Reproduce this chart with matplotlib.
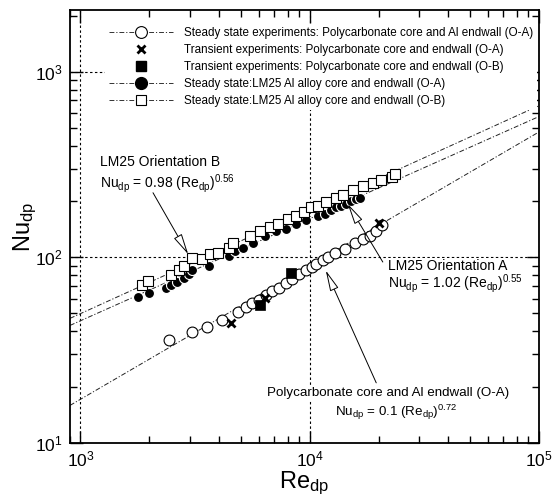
import numpy as np
import matplotlib
matplotlib.use('Agg')
import matplotlib.pyplot as plt
from matplotlib.lines import Line2D

plt.rcParams['font.family'] = ['Liberation Sans', 'DejaVu Sans']
plt.rcParams['mathtext.fontset'] = 'custom'
plt.rcParams['mathtext.rm'] = 'Liberation Sans'
plt.rcParams['mathtext.it'] = 'Liberation Sans:italic'
plt.rcParams['mathtext.bf'] = 'Liberation Sans:bold'

# ---------------- data ----------------
# Steady state: polycarbonate core and Al endwall (O-A)
pc_ss_re = [2430, 3050, 3550, 4150, 4870, 5260, 5620, 6010, 6430, 6880, 7350, 7860, 8400,
            8980, 9670, 10200, 10700, 11430, 12020, 12850, 14200, 15700, 17100, 18300, 19500, 20700]
pc_ss_nu = [36.0, 39.5, 42.0, 45.8, 50.7, 53.9, 56.8, 59.1, 62.4, 65.5, 68.7, 72.4, 76.9,
            81.1, 85.1, 88.7, 92.2, 97.2, 101, 105, 111, 120, 125, 131, 138, 149]
# Transient: polycarbonate core and endwall (O-A)
tr_oa_re = [4520, 6350, 20000]
tr_oa_nu = [44.1, 60.4, 153]
# Transient: polycarbonate core and endwall (O-B)
tr_ob_re = [6050, 8320]
tr_ob_nu = [55.6, 82.5]
# Steady state LM25 (O-A)
lm_oa_re = [1790, 2000, 2360, 2470, 2640, 2820, 2970, 3070, 3620, 4440, 4720, 5120, 5660, 6360,
            7150, 7910, 8750, 9670, 10870, 11630, 12440, 13070, 13750, 14460, 15200, 15990, 16640]
lm_oa_nu = [61.5, 64.2, 68.0, 71.0, 74.0, 77.6, 81.8, 85.0, 89.7, 102, 108, 113, 120, 130,
            138, 143, 152, 158, 168, 172, 180, 186, 190, 195, 200, 205, 208]
# Steady state LM25 (O-B)
lm_ob_re = [1860, 1970, 2470, 2685, 2825, 3076, 3400, 3656, 3980, 4450, 4630, 5470, 6050, 6690,
            7270, 8040, 8750, 9400, 10170, 10870, 11820, 13070, 13990, 15460, 17090, 18910,
            20560, 22750, 23500]
lm_ob_nu = [71, 74.6, 80.2, 85.1, 89.7, 98.8, 98.0, 104, 106, 112, 120, 130, 138, 146,
            152, 160, 168, 176, 186, 190, 198, 210, 218, 232, 241, 251,
            261, 272, 283]

# correlation lines as drawn (coefficient, exponent)
fit_names = ['pc', 'lm_oa', 'lm_ob']
fit_coef = [0.119, 1.02, 1.04]
fit_exp = [0.72, 0.55, 0.56]

legend_labels = [
    'Steady state experiments: Polycarbonate core and Al endwall (O-A)',
    'Transient experiments: Polycarbonate core and endwall (O-A)',
    'Transient experiments: Polycarbonate core and endwall (O-B)',
    'Steady state:LM25 Al alloy core and endwall (O-A)',
    'Steady state:LM25 Al alloy core and endwall (O-B)',
]

xlim = (900, 1e5)
ylim = (10, 2150)

# ---------------- figure ----------------
fig = plt.figure(figsize=(5.52, 4.98), dpi=100)
ax = fig.add_axes([0.1268, 0.1104, 0.8496, 0.8695])
ax.set_xscale('log')
ax.set_yscale('log')
ax.set_xlim(*xlim)
ax.set_ylim(*ylim)

dashdot = (0, (5, 2, 1.2, 2))
re_line = np.array(xlim)
for c, n in zip(fit_coef, fit_exp):
    ax.plot(re_line, c * re_line ** n, color='#222222', lw=0.7, ls=dashdot, zorder=2)

ax.plot(lm_oa_re, lm_oa_nu, ls='none', marker='o', ms=7.2, mfc='black', mec='white',
        mew=0.8, zorder=3)
ax.plot(lm_ob_re, lm_ob_nu, ls='none', marker='s', ms=6.9, mfc='white', mec='black',
        mew=0.8, zorder=4)
ax.plot(pc_ss_re, pc_ss_nu, ls='none', marker='o', ms=7.8, mfc='white', mec='black',
        mew=0.8, zorder=3)
ax.plot(tr_oa_re, tr_oa_nu, ls='none', marker='x', ms=5.5, mec='black', mew=2.0, zorder=5)
ax.plot(tr_ob_re, tr_ob_nu, ls='none', marker='s', ms=7.2, mfc='black', mec='black',
        mew=0.5, zorder=5)

# grid on decades
ax.grid(which='major', color='black', ls=(0, (2.2, 2.2)), lw=0.8)
ax.set_axisbelow(True)

ax.tick_params(which='both', direction='in', top=True, right=True, labelsize=12.5)
ax.tick_params(which='major', length=9, width=1.0, pad=5)
ax.tick_params(which='minor', length=5, width=1.0)
for s in ax.spines.values():
    s.set_linewidth(1.3)

ax.set_xlabel(r'Re$_{\rm dp}$', fontsize=17, labelpad=0)
ax.set_ylabel(r'Nu$_{\rm dp}$', fontsize=17, labelpad=-3)

# legend
handles = [
    Line2D([], [], color='#333333', lw=0.7, ls=dashdot, marker='o', ms=8.5, mfc='white', mec='black', mew=0.8),
    Line2D([], [], ls='none', marker='x', ms=5.5, mec='black', mew=2.0),
    Line2D([], [], ls='none', marker='s', ms=7.5, mfc='black', mec='black'),
    Line2D([], [], color='#333333', lw=0.7, ls=dashdot, marker='o', ms=8.5, mfc='black', mec='black'),
    Line2D([], [], color='#333333', lw=0.7, ls=dashdot, marker='s', ms=7, mfc='white', mec='black', mew=0.8),
]
leg = ax.legend(handles, legend_labels, loc='upper left', bbox_to_anchor=(0.075, 0.968),
                fontsize=8.4, frameon=True, fancybox=False, framealpha=1,
                handlelength=5.5, handletextpad=0.95, labelspacing=0.42, borderpad=0.3,
                borderaxespad=0.0)
leg.get_frame().set_edgecolor('none')
leg.get_frame().set_facecolor('white')

# annotations
arrow_kw = dict(arrowstyle='-|>,head_length=1.3,head_width=0.28', fc='white', ec='black',
                lw=0.7, shrinkA=0, shrinkB=0, mutation_scale=10)
box = dict(fc='white', ec='none', pad=0.6)
tfs = 10

ax.text(0.064, 0.640, 'LM25 Orientation B', transform=ax.transAxes, fontsize=tfs,
        ha='left', va='baseline', bbox=box, zorder=6)
ax.text(0.064, 0.591, r'Nu$_{\rm dp}$ = 0.98 (Re$_{\rm dp}$)$^{0.56}$', transform=ax.transAxes,
        fontsize=tfs, ha='left', va='baseline', bbox=box, zorder=6)
ax.annotate('', xy=(2950, 104), xycoords='data', xytext=(0.177, 0.578),
            textcoords='axes fraction', arrowprops=arrow_kw, zorder=7)

ax.text(0.678, 0.400, 'LM25 Orientation A', transform=ax.transAxes, fontsize=tfs,
        ha='left', va='baseline', bbox=box, zorder=6)
ax.text(0.678, 0.360, r'Nu$_{\rm dp}$ = 1.02 (Re$_{\rm dp}$)$^{0.55}$', transform=ax.transAxes,
        fontsize=tfs, ha='left', va='baseline', bbox=box, zorder=6)
ax.annotate('', xy=(14650, 194), xycoords='data', xytext=(0.667, 0.418),
            textcoords='axes fraction', arrowprops=arrow_kw, zorder=7)

ax.text(0.678, 0.1085, 'Polycarbonate core and Al endwall (O-A)', transform=ax.transAxes,
        fontsize=9.6, ha='center', va='baseline', bbox=box, zorder=6)
ax.text(0.695, 0.062, r'Nu$_{\rm dp}$ = 0.1 (Re$_{\rm dp}$)$^{0.72}$', transform=ax.transAxes,
        fontsize=9.6, ha='center', va='baseline', bbox=box, zorder=6)
ax.annotate('', xy=(11750, 85), xycoords='data', xytext=(0.653, 0.139),
            textcoords='axes fraction', arrowprops=arrow_kw, zorder=7)

fig.savefig('out.png', dpi=100)
